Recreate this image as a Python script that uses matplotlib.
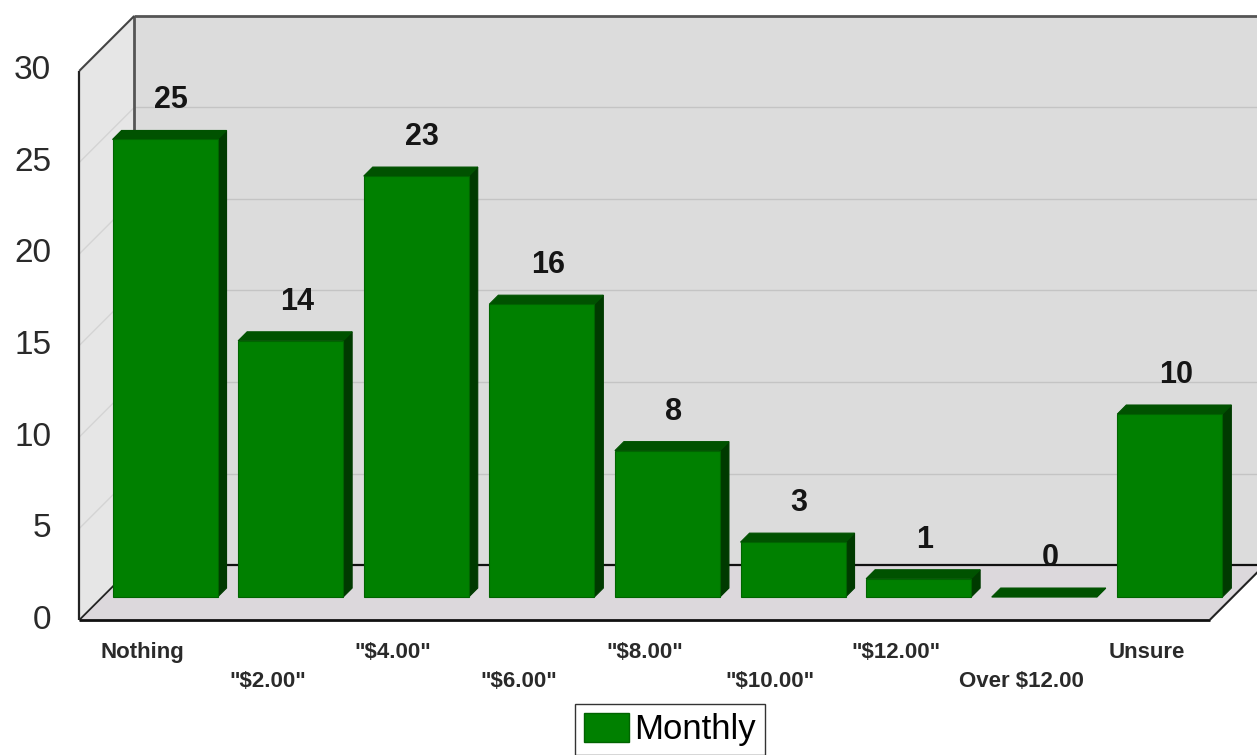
import matplotlib.pyplot as plt
from matplotlib.patches import Polygon, Patch

# Monthly amount respondents would pay
categories = ['Nothing', '"$2.00"', '"$4.00"', '"$6.00"', '"$8.00"',
              '"$10.00"', '"$12.00"', 'Over $12.00', 'Unsure']
monthly = [25, 14, 23, 16, 8, 3, 1, 0, 10]
y_ticks = [0, 5, 10, 15, 20, 25, 30]

# pseudo-3d geometry, in pixels relative to the bar front plane
FRONT = -23
BACK = 32
BAR_DEPTH = 9
BAR_WIDTH = 0.836

GREEN = '#008000'
GREEN_TOP = '#005200'
GREEN_SIDE = '#003a00'

plt.rcParams['font.family'] = ['Liberation Sans', 'DejaVu Sans']

fig = plt.figure(figsize=(12.57, 7.55), dpi=100)
ax = fig.add_axes([0, 0, 1, 1])
ax.set_xlim(-1.314, 8.694)
ax.set_ylim(-8.63, 32.62)
ax.axis('off')


def shift(x, y, d):
    """Move a data point diagonally by d pixels (depth direction)."""
    px, py = ax.transData.transform((x, y))
    return tuple(ax.transData.inverted().transform((px + d, py + d)))


x0, x1 = -0.5, len(categories) - 0.5
ymax = y_ticks[-1]

# walls and floor
back_wall = [shift(x0, 0, BACK), shift(x1, 0, BACK), shift(x1, ymax, BACK), shift(x0, ymax, BACK)]
floor = [shift(x0, 0, FRONT), shift(x1, 0, FRONT), shift(x1, 0, BACK), shift(x0, 0, BACK)]
left_wall = [shift(x0, 0, FRONT), shift(x0, ymax, FRONT), shift(x0, ymax, BACK), shift(x0, 0, BACK)]
ax.add_patch(Polygon(back_wall, closed=True, facecolor='#dcdcdc', edgecolor='none', zorder=1))
ax.add_patch(Polygon(floor, closed=True, facecolor='#dcd8dc', edgecolor='none', zorder=1))
ax.add_patch(Polygon(left_wall, closed=True, facecolor='#e6e6e6', edgecolor='none', zorder=1))


def seg(p, q, **kw):
    ax.plot([p[0], q[0]], [p[1], q[1]], solid_capstyle='butt', **kw)


# gridlines on back and left walls
for t in y_ticks[1:-1]:
    seg(shift(x0, t, BACK), shift(x1, t, BACK), color='#c4c4c4', lw=1, zorder=2)
    seg(shift(x0, t, FRONT), shift(x0, t, BACK), color='#d4d4d4', lw=1, zorder=2)

# edges behind the bars
seg(shift(x0, 0, BACK), shift(x1, 0, BACK), color='#111111', lw=1.6, zorder=3)
seg(shift(x0, 0, FRONT), shift(x0, 0, BACK), color='#222222', lw=1.3, zorder=3)
seg(shift(x0, 0, BACK), shift(x0, ymax, BACK), color='#555555', lw=2, zorder=3)
seg(shift(x0, ymax, BACK), shift(x1, ymax, BACK), color='#555555', lw=2, zorder=3)

# bars
for i, v in enumerate(monthly):
    left, right = i - BAR_WIDTH / 2, i + BAR_WIDTH / 2
    front = [(left, 0), (right, 0), (right, v), (left, v)]
    top = [(left, v), (right, v), shift(right, v, BAR_DEPTH), shift(left, v, BAR_DEPTH)]
    side = [(right, 0), shift(right, 0, BAR_DEPTH), shift(right, v, BAR_DEPTH), (right, v)]
    ax.add_patch(Polygon(side, closed=True, facecolor=GREEN_SIDE, edgecolor=GREEN_SIDE, lw=0.8, zorder=4))
    ax.add_patch(Polygon(top, closed=True, facecolor=GREEN_TOP, edgecolor=GREEN_TOP, lw=0.8, zorder=4))
    if v > 0:
        ax.add_patch(Polygon(front, closed=True, facecolor=GREEN, edgecolor='#006400', lw=0.8, zorder=5))
    ax.annotate(str(v), (i, v), xytext=(6, BAR_DEPTH + 30), textcoords='offset pixels',
                ha='center', va='center', fontsize=22, fontweight='bold', color='#151515', zorder=11)

# front edges of the box
seg(shift(x0, 0, FRONT), shift(x1, 0, FRONT), color='#111111', lw=2, zorder=10)
seg(shift(x1, 0, FRONT), shift(x1, 0, BACK), color='#222222', lw=1.5, zorder=10)
seg(shift(x0, 0, FRONT), shift(x0, ymax, FRONT), color='#222222', lw=1.6, zorder=10)
seg(shift(x0, ymax, FRONT), shift(x0, ymax, BACK), color='#444444', lw=1.5, zorder=10)

# value axis labels
for t in y_ticks:
    ax.annotate(str(t), (x0, t), xytext=(FRONT - 28, FRONT), textcoords='offset pixels',
                ha='right', va='center', fontsize=24, color='#2a2a2a')

# category labels, staggered on two rows
for i, cat in enumerate(categories):
    drop = 32 if i % 2 == 0 else 61
    ax.annotate(cat, (i, 0), xytext=(FRONT, FRONT - drop), textcoords='offset pixels',
                ha='center', va='center', fontsize=16, fontweight='bold', color='#2a2a2a')

fig.legend(handles=[Patch(facecolor=GREEN, edgecolor='#006400')], labels=['Monthly'],
           loc='upper center', bbox_to_anchor=(670 / 1257, 1 - 704 / 755),
           frameon=True, fancybox=False, edgecolor='#333333', framealpha=1,
           fontsize=25, handlelength=1.3, handleheight=0.9, handletextpad=0.15,
           borderpad=0.25, borderaxespad=0)

fig.savefig('out.png', dpi=100)
